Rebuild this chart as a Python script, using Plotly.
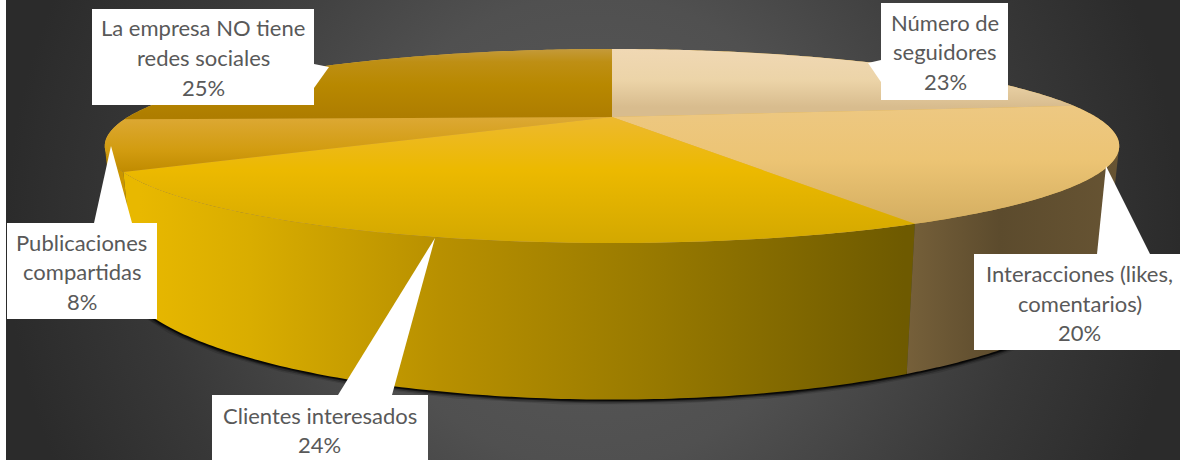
import numpy as np
import plotly.graph_objects as go

# Survey shares, clockwise from twelve o'clock
categories = [
    ["Número de", "seguidores"],
    ["Interacciones (likes,", "comentarios)"],
    ["Clientes interesados"],
    ["Publicaciones", "compartidas"],
    ["La empresa NO tiene", "redes sociales"],
]
shares = [22.9, 19.5, 23.8, 8.4, 25.4]

# Vertical gradient stops (y, colour) of each slice's top face
top_stops = [
    [(49, "#f0d8b4"), (80, "#ecd4a8"), (107, "#d8bc8e")],
    [(106, "#edc882"), (160, "#ecc474"), (226, "#d3ad60")],
    [(118, "#edb92e"), (170, "#ecb900"), (205, "#e0b100"), (243, "#d3a800")],
    [(118, "#dca833"), (150, "#d29c10"), (172, "#c08b00")],
    [(49, "#c49a3a"), (62, "#be8f14"), (85, "#b88800"), (117, "#ae7d00")],
]
# Horizontal gradient stops (x, colour) of the walls that face the viewer
side_stops = {
    1: [(907, "#76603a"), (1000, "#5c4b2d"), (1118, "#675433")],
    2: [(140, "#e8b800"), (250, "#d9ad00"), (440, "#b89000"), (640, "#9a7b00"), (905, "#6e5a00")],
    3: [(106, "#c49000"), (140, "#d09a00")],
}

# Callout boxes (x0, y0, x1, y1), pointer (tip, base a, base b), text line centres
callouts = [
    dict(box=(881, 3, 1008, 100), ptr=[(868, 63), (881, 60), (881, 82)], lines_y=[22, 51, 81], x=945),
    dict(box=(974, 254, 1181, 350), ptr=[(1106, 166), (1097, 254), (1150, 254)], lines_y=[273, 303, 332], x=1079.5),
    dict(box=(212, 395, 428, 461), ptr=[(435, 238), (338, 395), (392, 395)], lines_y=[415, 444], x=319.5),
    dict(box=(7, 223, 157, 319), ptr=[(111, 146), (94, 223), (132, 223)], lines_y=[242, 271, 301], x=81.5),
    dict(box=(92, 9, 314, 105), ptr=[(329, 67), (314, 64), (314, 88)], lines_y=[27, 57, 87], x=203),
]

# Perspective projection of the unit disc onto the canvas
CX, C = 612.0, -0.299


def project(theta, k, a, b):
    u, v = np.sin(theta), -np.cos(theta)
    w = 1 + C * v
    return CX + k * u / w, (a * v + b) / w


def top(theta):
    return project(theta, 484.0, 53.35, 117.0)


def base(theta):
    return project(theta, 471.0, 49.1, 231.0)


def gradient(stops, orientation):
    lo, hi = stops[0][0], stops[-1][0]
    scale = [[(p - lo) / (hi - lo), c] for p, c in stops]
    return dict(type=orientation, colorscale=scale, start=lo, stop=hi)


def add_fill(fig, xs, ys, **kw):
    fig.add_trace(go.Scatter(x=xs, y=ys, mode="none", fill="toself", hoverinfo="skip", showlegend=False, **kw))


fig = go.Figure()

# Backdrop: a circular glow clipped by the plot area
add_fill(
    fig,
    [6, 1180, 1180, 6, 6],
    [-357, -357, 817, 817, -357],
    fillgradient=dict(
        type="radial",
        colorscale=[[0, "#5a5a5a"], [0.4, "#505050"], [0.75, "#383838"], [1, "#2b2b2b"]],
    ),
)

edges = 2 * np.pi * np.concatenate([[0], np.cumsum(shares)]) / np.sum(shares)
arcs = [np.linspace(edges[i], edges[i + 1], 120) for i in range(len(shares))]

# The wall is visible only between the two silhouette angles of the projection
vis_lo = np.arccos(C)
vis_hi = 2 * np.pi - vis_lo

# Soft shadow under the front of the pie
front = np.linspace(vis_lo, vis_hi, 300)
sx, sy = base(front)
for width, alpha in [(11, 0.12), (8, 0.25), (5, 0.45), (3, 0.7)]:
    fig.add_trace(go.Scatter(x=sx, y=sy, mode="lines", hoverinfo="skip", showlegend=False,
                             line=dict(color=f"rgba(0,0,0,{alpha})", width=width)))

# Walls, outer slices first so the widest one overlaps them
for i in [3, 1, 2]:
    lo, hi = max(edges[i], vis_lo), min(edges[i + 1], vis_hi)
    arc = np.linspace(lo, hi, 120)
    tx, ty = top(arc)
    bx, by = base(arc)
    add_fill(fig, np.r_[tx, bx[::-1], tx[0]], np.r_[ty, by[::-1], ty[0]],
             fillgradient=gradient(side_stops[i], "horizontal"))

# Solid disc under the top faces keeps the joins between slices closed
disc_x, disc_y = top(np.linspace(0, 2 * np.pi, 400))
add_fill(fig, disc_x, disc_y, fillcolor="#dcae48")

# Top faces
ax, ay = top(0.0)[0], 117.0
for i in range(len(shares)):
    tx, ty = top(arcs[i])
    add_fill(fig, np.r_[ax, tx, ax], np.r_[ay, ty, ay],
             fillgradient=gradient(top_stops[i], "vertical"))

# Callouts and their text
annotations = []
for lines, share, c in zip(categories, shares, callouts):
    x0, y0, x1, y1 = c["box"]
    add_fill(fig, [x0, x1, x1, x0, x0], [y0, y0, y1, y1, y0], fillcolor="white")
    px, py = zip(*c["ptr"])
    add_fill(fig, [*px, px[0]], [*py, py[0]], fillcolor="white")
    for text, y in zip(lines + [f"{round(share)}%"], c["lines_y"]):
        annotations.append(dict(x=c["x"], y=y, text=text, showarrow=False, xanchor="center", yanchor="middle",
                                font=dict(family="Lato", size=22, color="#595959")))

fig.update_layout(
    width=1180, height=460, autosize=False,
    margin=dict(l=0, r=0, t=0, b=0),
    paper_bgcolor="white", plot_bgcolor="rgba(0,0,0,0)",
    xaxis=dict(range=[0, 1180], visible=False, fixedrange=True),
    yaxis=dict(range=[460, 0], visible=False, fixedrange=True),
    annotations=annotations,
    showlegend=False,
)
fig.write_html("out.html", config=dict(displayModeBar=False))
